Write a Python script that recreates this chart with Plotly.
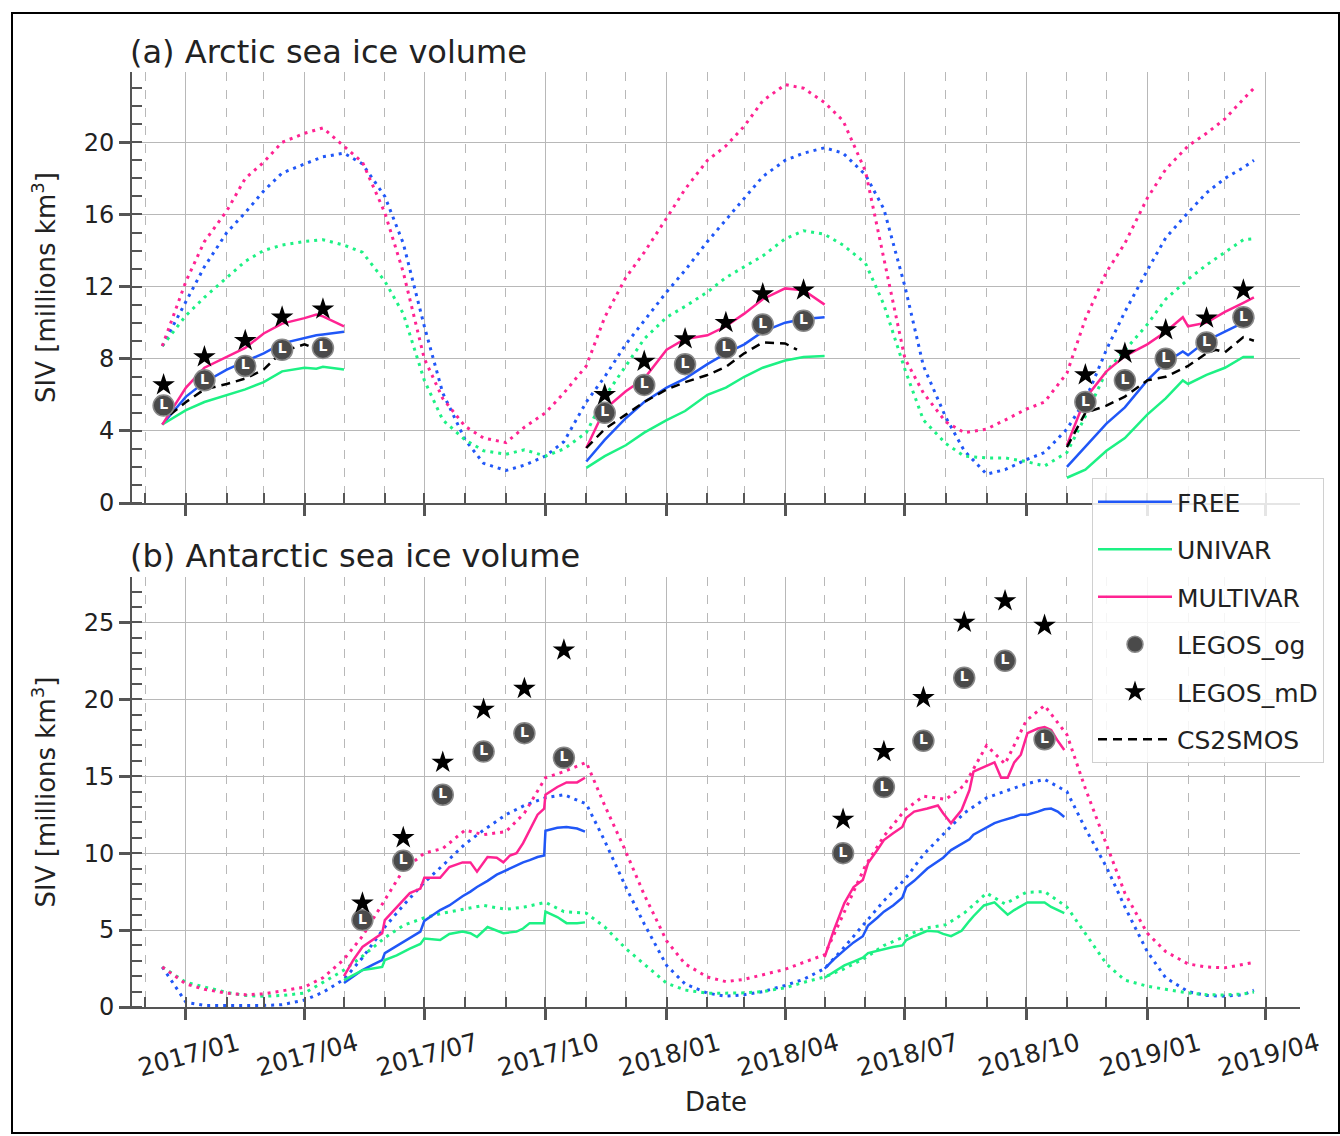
import plotly.graph_objects as go

# ---------------- data ----------------
DOT_DATES = ['2016-12-14',
             '2017-01-01', '2017-01-15', '2017-02-01', '2017-02-15', '2017-03-01', '2017-03-15',
             '2017-04-01', '2017-04-15', '2017-05-01', '2017-05-15', '2017-06-01', '2017-06-15',
             '2017-07-01', '2017-07-15', '2017-08-01', '2017-08-15', '2017-09-01', '2017-09-15',
             '2017-10-01', '2017-10-15', '2017-11-01', '2017-11-15', '2017-12-01', '2017-12-15',
             '2018-01-01', '2018-01-15', '2018-02-01', '2018-02-15', '2018-03-01', '2018-03-15',
             '2018-04-01', '2018-04-15', '2018-05-01', '2018-05-15', '2018-06-01', '2018-06-15',
             '2018-07-01', '2018-07-15', '2018-08-01', '2018-08-15', '2018-09-01', '2018-09-15',
             '2018-10-01', '2018-10-15', '2018-11-01', '2018-11-15', '2018-12-01', '2018-12-15',
             '2019-01-01', '2019-01-15', '2019-02-01', '2019-02-15', '2019-03-01', '2019-03-15',
             '2019-03-23']

# Arctic, dotted (whole period)
ARC_FREE_DOT = [8.7, 11.2, 13.1, 15.0, 16.1, 17.3, 18.3, 18.8, 19.2, 19.4,
                18.8, 17.0, 14.4, 9.8, 6.1, 3.5, 2.2, 1.8, 2.1, 2.6,
                3.4, 5.6, 7.0, 8.8, 10.1, 11.7, 12.9, 14.5, 15.7, 16.9,
                18.1, 19.0, 19.4, 19.7, 19.4, 18.2, 16.3, 12.0, 7.6, 4.75,
                2.9, 1.6, 1.85, 2.4, 2.8, 4.1, 5.7, 8.5, 10.6, 12.9,
                14.7, 16.1, 17.2, 18.0, 18.6, 19.0]
ARC_UNI_DOT = [8.7, 10.4, 11.4, 12.5, 13.4, 14.0, 14.3, 14.5, 14.6, 14.3,
               13.9, 12.3, 10.5, 6.8, 4.6, 3.5, 2.9, 2.7, 2.95, 2.6,
               3.0, 3.9, 5.9, 7.6, 9.1, 10.3, 10.9, 11.7, 12.5, 13.1,
               13.7, 14.65, 15.1, 14.9, 14.3, 13.3, 11.0, 7.4, 4.6, 3.3,
               2.6, 2.5, 2.5, 2.3, 2.05, 2.8, 4.8, 7.3, 8.5, 9.9,
               11.3, 12.4, 13.2, 13.9, 14.6, 14.65]
ARC_MULTI_DOT = [8.7, 12.3, 14.5, 16.2, 18.0, 18.9, 20.0, 20.5, 20.8, 19.8,
                 18.9, 16.1, 12.8, 8.0, 5.8, 4.25, 3.6, 3.35, 4.2, 5.0,
                 6.1, 7.6, 10.3, 12.5, 13.9, 15.8, 17.4, 19.0, 19.8, 20.9,
                 22.3, 23.2, 23.0, 22.2, 21.2, 18.4, 13.6, 8.0, 6.1, 4.5,
                 3.9, 4.1, 4.6, 5.2, 5.6, 7.2, 10.2, 12.8, 14.4, 16.9,
                 18.5, 19.8, 20.5, 21.3, 22.4, 23.0]

# Antarctic, dotted (whole period)
ANT_FREE_DOT = [2.6, 0.3, 0.1, 0.1, 0.1, 0.1, 0.15, 0.45, 0.95, 1.8,
                3.2, 5.2, 6.6, 8.1, 9.2, 10.6, 11.5, 12.5, 13.1, 13.6,
                13.8, 13.2, 10.8, 7.8, 5.4, 2.7, 1.5, 0.9, 0.7, 0.8,
                1.0, 1.4, 1.8, 2.5, 3.8, 5.5, 6.9, 8.3, 9.9, 11.4,
                12.6, 13.6, 14.0, 14.5, 14.8, 14.0, 11.6, 9.1, 6.5, 3.6,
                1.9, 1.0, 0.75, 0.7, 0.8, 1.1]
ANT_UNI_DOT = [2.6, 1.6, 1.3, 0.95, 0.75, 0.7, 0.75, 0.9, 1.6, 2.4,
               3.3, 4.5, 5.3, 5.8, 6.1, 6.35, 6.6, 6.35, 6.5, 6.8,
               6.2, 6.1, 5.2, 3.8, 2.8, 1.55, 1.1, 0.9, 0.9, 0.92,
               1.0, 1.25, 1.6, 1.95, 2.45, 3.2, 4.0, 4.6, 5.1, 5.35,
               6.1, 7.4, 6.7, 7.45, 7.5, 6.5, 4.8, 2.8, 1.75, 1.35,
               1.15, 0.92, 0.8, 0.78, 0.85, 0.97]
ANT_MULTI_DOT = [2.6, 1.5, 1.15, 0.9, 0.8, 0.85, 1.05, 1.3, 1.9, 3.1,
                 4.6, 7.0, 8.9, 10.0, 10.3, 11.5, 11.2, 11.4, 12.6, 14.9,
                 15.3, 15.9, 13.1, 10.1, 7.3, 4.3, 2.8, 1.95, 1.65, 1.8,
                 2.1, 2.45, 2.9, 3.4, 6.0, 9.2, 11.1, 12.8, 13.7, 13.5,
                 14.4, 17.0, 15.8, 18.6, 19.6, 17.7, 14.2, 10.6, 7.4, 4.8,
                 3.6, 2.8, 2.6, 2.55, 2.75, 2.9]

# Arctic, solid (assimilation windows)
ARC_W1_DATES = ['2016-12-14', '2017-01-01', '2017-01-15', '2017-02-01', '2017-02-15', '2017-03-01',
                '2017-03-15', '2017-04-01', '2017-04-10', '2017-04-15', '2017-05-01']
ARC_W1_FREE = [4.35, 5.9, 6.7, 7.4, 7.85, 8.3, 8.85, 9.15, 9.3, 9.35, 9.5]
ARC_W1_UNI = [4.35, 5.15, 5.6, 6.0, 6.3, 6.7, 7.3, 7.5, 7.45, 7.55, 7.4]
ARC_W1_MULTI = [4.35, 6.4, 7.5, 8.1, 8.6, 9.4, 9.95, 10.25, 10.45, 10.35, 9.8]

ARC_W2_DATES = ['2017-11-01', '2017-11-15', '2017-12-01', '2017-12-15', '2018-01-01', '2018-01-15',
                '2018-02-01', '2018-02-15', '2018-03-01', '2018-03-15', '2018-04-01', '2018-04-15',
                '2018-05-01']
ARC_W2_FREE = [2.3, 3.5, 4.7, 5.6, 6.4, 6.9, 7.7, 8.3, 8.8, 9.5, 10.0, 10.2, 10.3]
ARC_W2_UNI = [1.95, 2.6, 3.2, 3.9, 4.6, 5.1, 6.0, 6.4, 7.0, 7.5, 7.9, 8.1, 8.15]
ARC_W2_MULTI = [3.05, 5.2, 6.2, 6.9, 8.5, 9.1, 9.3, 9.8, 10.5, 11.3, 11.9, 11.8, 11.0]

ARC_W3_DATES = ['2018-11-01', '2018-11-15', '2018-12-01', '2018-12-15', '2019-01-01', '2019-01-15',
                '2019-01-28', '2019-02-01', '2019-02-15', '2019-03-01', '2019-03-15', '2019-03-23']
ARC_W3_FREE = [2.0, 3.1, 4.4, 5.3, 6.8, 7.8, 8.4, 8.2, 9.0, 9.5, 10.0, 10.3]
ARC_W3_UNI = [1.4, 1.85, 2.9, 3.6, 4.9, 5.8, 6.8, 6.6, 7.1, 7.5, 8.1, 8.1]
ARC_W3_MULTI = [3.2, 5.8, 7.3, 8.15, 8.8, 9.5, 10.3, 9.8, 10.0, 10.6, 11.1, 11.4]

# CS2SMOS (Arctic only)
CS2_W1_DATES = ['2016-12-20', '2017-01-01', '2017-01-15', '2017-02-01', '2017-02-15', '2017-03-01',
                '2017-03-15', '2017-04-01', '2017-04-08', '2017-04-15']
CS2_W1 = [4.9, 5.6, 6.3, 6.6, 6.9, 7.4, 8.4, 8.8, 8.6, 8.5]
CS2_W2_DATES = ['2017-11-01', '2017-11-15', '2017-12-01', '2017-12-15', '2018-01-01', '2018-01-15',
                '2018-02-01', '2018-02-15', '2018-03-01', '2018-03-15', '2018-04-01', '2018-04-10']
CS2_W2 = [3.05, 4.1, 4.9, 5.6, 6.3, 6.7, 7.1, 7.55, 8.3, 8.9, 8.85, 8.5]
CS2_W3_DATES = ['2018-11-01', '2018-11-15', '2018-12-01', '2018-12-15', '2019-01-01', '2019-01-15',
                '2019-02-01', '2019-02-15', '2019-02-22', '2019-03-01', '2019-03-15', '2019-03-23']
CS2_W3 = [3.1, 5.0, 5.4, 5.9, 6.8, 7.0, 7.6, 8.3, 8.5, 8.35, 9.2, 9.0]

# Antarctic, solid (assimilation windows)
ANT_W1_DATES = ['2017-05-01', '2017-05-08', '2017-05-15', '2017-05-23', '2017-05-30', '2017-06-01',
                '2017-06-10', '2017-06-20', '2017-06-28', '2017-07-01', '2017-07-13', '2017-07-20',
                '2017-07-30', '2017-08-05', '2017-08-10', '2017-08-18', '2017-08-25', '2017-08-30',
                '2017-09-04', '2017-09-09', '2017-09-14', '2017-09-19', '2017-09-25', '2017-09-30',
                '2017-10-01', '2017-10-10', '2017-10-17', '2017-10-25', '2017-10-31']
ANT_W1_FREE = [1.56, 2.0, 2.4, 2.75, 3.05, 3.5, 3.95, 4.5, 4.9, 5.6, 6.3, 6.6, 7.2, 7.5, 7.8,
               8.2, 8.6, 8.8, 9.0, 9.25, 9.4, 9.55, 9.75, 9.85, 11.45, 11.65, 11.7, 11.6, 11.4]
ANT_W1_UNI = [1.75, 2.1, 2.4, 2.5, 2.6, 3.05, 3.35, 3.8, 4.1, 4.45, 4.35, 4.75, 4.9, 4.8, 4.55,
              5.2, 4.95, 4.8, 4.85, 4.9, 5.1, 5.45, 5.45, 5.45, 6.2, 5.85, 5.45, 5.45, 5.5]
ANT_W1_MULTI = [2.0, 3.05, 3.9, 4.35, 4.8, 5.65, 6.5, 7.4, 7.7, 8.4, 8.4, 9.1, 9.4, 9.4, 8.8,
                9.75, 9.7, 9.4, 9.85, 10.0, 10.65, 11.5, 12.5, 12.9, 13.8, 14.3, 14.6, 14.6, 14.9]

ANT_W2_DATES = ['2018-05-01', '2018-05-08', '2018-05-16', '2018-05-23', '2018-05-30', '2018-06-03',
                '2018-06-10', '2018-06-15', '2018-06-22', '2018-06-29', '2018-07-02', '2018-07-08',
                '2018-07-18', '2018-07-26', '2018-07-30', '2018-08-05', '2018-08-13', '2018-08-19',
                '2018-08-22', '2018-08-30', '2018-09-07', '2018-09-12', '2018-09-17', '2018-09-22',
                '2018-09-27', '2018-10-02', '2018-10-10', '2018-10-15', '2018-10-20', '2018-10-25',
                '2018-10-30']
ANT_W2_FREE = [2.5, 3.1, 3.7, 4.2, 4.6, 5.3, 5.8, 6.2, 6.6, 7.1, 7.8, 8.2, 9.0, 9.45, 9.7, 10.2,
               10.6, 10.9, 11.2, 11.6, 11.95, 12.1, 12.2, 12.35, 12.5, 12.5, 12.7, 12.85, 12.9,
               12.7, 12.35]
ANT_W2_UNI = [1.9, 2.3, 2.7, 2.95, 3.2, 3.5, 3.65, 3.8, 3.9, 4.0, 4.35, 4.6, 4.95, 4.9, 4.75, 4.6,
              4.95, 5.6, 5.9, 6.6, 6.8, 6.4, 6.0, 6.3, 6.55, 6.8, 6.8, 6.8, 6.5, 6.3, 6.1]
ANT_W2_MULTI = [3.25, 5.0, 6.75, 7.8, 8.25, 9.35, 10.2, 10.85, 11.3, 11.7, 12.3, 12.7, 12.9, 13.1,
                12.6, 11.95, 12.8, 14.1, 15.3, 15.6, 15.9, 14.9, 14.9, 15.9, 16.4, 17.8, 18.1,
                18.2, 18.0, 17.3, 16.7]

# LEGOS observations
ARC_OBS_DATES = ['2016-12-15', '2017-01-15', '2017-02-15', '2017-03-15', '2017-04-15',
                 '2017-11-15', '2017-12-15', '2018-01-15', '2018-02-15', '2018-03-15', '2018-04-15',
                 '2018-11-15', '2018-12-15', '2019-01-15', '2019-02-15', '2019-03-15']
ARC_LEGOS_OG = [5.4, 6.8, 7.6, 8.5, 8.6, 5.0, 6.55, 7.7, 8.6, 9.9, 10.1, 5.6, 6.8, 8.0, 8.9, 10.3]
ARC_LEGOS_MD = [6.55, 8.1, 9.0, 10.3, 10.75, 6.0, 7.85, 9.1, 10.0, 11.6, 11.8, 7.1, 8.3, 9.6, 10.25, 11.8]

ANT_OBS_DATES = ['2017-05-15', '2017-06-15', '2017-07-15', '2017-08-15', '2017-09-15', '2017-10-15',
                 '2018-05-15', '2018-06-15', '2018-07-15', '2018-08-15', '2018-09-15', '2018-10-15']
ANT_LEGOS_OG = [5.65, 9.5, 13.8, 16.6, 17.8, 16.2, 10.0, 14.3, 17.3, 21.4, 22.5, 17.4]
ANT_LEGOS_MD = [6.75, 11.0, 15.9, 19.35, 20.7, 23.2, 12.2, 16.6, 20.1, 25.0, 26.4, 24.8]

TITLES = ['(a) Arctic sea ice volume', '(b) Antarctic sea ice volume']
Y_TITLE = 'SIV [millions km<sup>3</sup>]'
X_TITLE = 'Date'

# ---------------- style ----------------
C_FREE = '#2057f7'
C_UNI = '#1df184'
C_MULTI = '#ff2392'
FONT = 'DejaVu Sans'
AX = '#555555'
GRID = '#b8b8b8'


def joined(date_lists, value_lists):
    xs, ys = [], []
    for i, (d, v) in enumerate(zip(date_lists, value_lists)):
        if i:
            xs.append(None)
            ys.append(None)
        xs.extend(d)
        ys.extend(v)
    return xs, ys


fig = go.Figure()

DOT = dict(width=3, dash='3px,5px')

panels = [
    ('x', 'y', True,
     [(ARC_FREE_DOT, C_FREE), (ARC_UNI_DOT, C_UNI), (ARC_MULTI_DOT, C_MULTI)],
     [('FREE', C_FREE, [ARC_W1_FREE, ARC_W2_FREE, ARC_W3_FREE], 1),
      ('UNIVAR', C_UNI, [ARC_W1_UNI, ARC_W2_UNI, ARC_W3_UNI], 2),
      ('MULTIVAR', C_MULTI, [ARC_W1_MULTI, ARC_W2_MULTI, ARC_W3_MULTI], 3)],
     [ARC_W1_DATES, ARC_W2_DATES, ARC_W3_DATES],
     ARC_OBS_DATES, ARC_LEGOS_OG, ARC_LEGOS_MD),
    ('x2', 'y2', False,
     [(ANT_FREE_DOT, C_FREE), (ANT_UNI_DOT, C_UNI), (ANT_MULTI_DOT, C_MULTI)],
     [('FREE', C_FREE, [ANT_W1_FREE, ANT_W2_FREE], 1),
      ('UNIVAR', C_UNI, [ANT_W1_UNI, ANT_W2_UNI], 2),
      ('MULTIVAR', C_MULTI, [ANT_W1_MULTI, ANT_W2_MULTI], 3)],
     [ANT_W1_DATES, ANT_W2_DATES],
     ANT_OBS_DATES, ANT_LEGOS_OG, ANT_LEGOS_MD),
]

for xa, ya, show, dots, solids, wdates, odates, og, md in panels:
    for vals, col in dots:
        fig.add_trace(go.Scatter(x=DOT_DATES, y=vals, xaxis=xa, yaxis=ya, mode='lines',
                                 line=dict(color=col, **DOT), showlegend=False,
                                 hoverinfo='skip'))
    for name, col, vlists, rank in solids:
        xs, ys = joined(wdates, vlists)
        fig.add_trace(go.Scatter(x=xs, y=ys, xaxis=xa, yaxis=ya, mode='lines', name=name,
                                 line=dict(color=col, width=2.5), connectgaps=False,
                                 showlegend=show, legendgroup=name, legendrank=rank))
    if show:
        xs, ys = joined([CS2_W1_DATES, CS2_W2_DATES, CS2_W3_DATES], [CS2_W1, CS2_W2, CS2_W3])
        fig.add_trace(go.Scatter(x=xs, y=ys, xaxis=xa, yaxis=ya, mode='lines', name='CS2SMOS',
                                 line=dict(color='black', width=2.5, dash='9px,6px'),
                                 connectgaps=False, showlegend=True, legendgroup='CS2SMOS',
                                 legendrank=6))
    fig.add_trace(go.Scatter(x=odates, y=og, xaxis=xa, yaxis=ya, mode='markers', name='LEGOS_og',
                             marker=dict(symbol='circle', size=21, color='#4a4a4a',
                                         line=dict(color='#8a8a8a', width=1.5)),
                             showlegend=show, legendgroup='LEGOS_og', legendrank=4))
    fig.add_trace(go.Scatter(x=odates, y=og, xaxis=xa, yaxis=ya, mode='text', text=['L'] * len(og),
                             textposition='middle center',
                             textfont=dict(color='white', size=14, family=FONT, weight='bold'),
                             showlegend=False, hoverinfo='skip'))
    fig.add_trace(go.Scatter(x=odates, y=md, xaxis=xa, yaxis=ya, mode='markers', name='LEGOS_mD',
                             marker=dict(symbol='star', size=17, color='black'),
                             showlegend=show, legendgroup='LEGOS_mD', legendrank=5))

# ---------------- layout ----------------
W, H = 1340, 1136
ML, MR, MT, MB = 132, 40, 72, 129
PW, PH = W - ML - MR, H - MT - MB


def px_x(px):
    return (px - ML) / PW


def px_y(py):
    return (H - MB - py) / PH


XRANGE = ['2016-11-21', '2019-04-27']
xcommon = dict(type='date', range=XRANGE, tick0='2017-01-01', dtick='M3',
               ticks='outside', ticklen=11, tickwidth=3, tickcolor=AX,
               showline=True, linecolor=AX, linewidth=2, showgrid=True, gridcolor=GRID,
               gridwidth=1, zeroline=False, automargin=False,
               minor=dict(dtick='M1', ticks='inside', ticklen=10, tickwidth=1.5, tickcolor=AX,
                          showgrid=True, gridcolor=GRID, griddash='dash', gridwidth=1))

ycommon = dict(ticks='outside', ticklen=11, tickwidth=3, tickcolor=AX, showline=True,
               linecolor=AX, linewidth=2, showgrid=True, gridcolor=GRID, gridwidth=1,
               zeroline=False, automargin=False, tickfont=dict(size=24),
               title=dict(text=Y_TITLE, font=dict(size=26), standoff=21),
               minor=dict(dtick=1, ticks='inside', ticklen=10, tickwidth=1.5, tickcolor=AX,
                          showgrid=False))

# overlay axes only used to draw the inner half of the major ticks ("in-out" ticks)
xin = dict(type='date', range=XRANGE, tick0='2017-01-01', dtick='M3', ticks='inside',
           ticklen=10, tickwidth=3, tickcolor=AX, showgrid=False, showline=False,
           showticklabels=False, zeroline=False, automargin=False)
yin = dict(ticks='inside', ticklen=11, tickwidth=3, tickcolor=AX, showgrid=False,
           showline=False, showticklabels=False, zeroline=False, automargin=False)

top_dom = [px_y(503), 1.0]
bot_dom = [0.0, px_y(577)]
YR_TOP = [0, 23.9]
YR_BOT = [0, 27.95]

fig.update_layout(
    width=W, height=H, margin=dict(l=ML, r=MR, t=MT, b=MB),
    paper_bgcolor='white', plot_bgcolor='white',
    font=dict(family=FONT, size=24, color='#222222'),
    xaxis=dict(**xcommon, anchor='y', domain=[0, 1], showticklabels=False),
    yaxis=dict(**ycommon, anchor='x', domain=top_dom, range=YR_TOP, dtick=4, tick0=0),
    xaxis2=dict(**xcommon, anchor='y2', domain=[0, 1], showticklabels=True, tickformat='%Y/%m',
                tickangle=-15, tickfont=dict(size=25), ticklabelshift=52,
                title=dict(text=X_TITLE, font=dict(size=26), standoff=12)),
    yaxis2=dict(**ycommon, anchor='x2', domain=bot_dom, range=YR_BOT, dtick=5, tick0=0),
    xaxis3=dict(**xin, anchor='y', overlaying='x'),
    xaxis4=dict(**xin, anchor='y2', overlaying='x2'),
    yaxis3=dict(**yin, anchor='x', overlaying='y', range=YR_TOP, dtick=4, tick0=0),
    yaxis4=dict(**yin, anchor='x2', overlaying='y2', range=YR_BOT, dtick=5, tick0=0),
    legend=dict(x=px_x(1092), y=px_y(478), xanchor='left', yanchor='top',
                bgcolor='rgba(255,255,255,0.85)', bordercolor='#d0d0d0', borderwidth=1,
                font=dict(size=25, family=FONT), tracegroupgap=12, itemwidth=74,
                traceorder='grouped'),
    annotations=[
        dict(text=TITLES[0], xref='paper', yref='paper', x=px_x(128), y=px_y(52),
             xanchor='left', yanchor='middle', showarrow=False, font=dict(size=32)),
        dict(text=TITLES[1], xref='paper', yref='paper', x=px_x(128), y=px_y(556),
             xanchor='left', yanchor='middle', showarrow=False, font=dict(size=32)),
    ],
    shapes=[dict(type='rect', xref='paper', yref='paper', x0=px_x(12), x1=px_x(1339),
                 y0=px_y(1133), y1=px_y(13), line=dict(color='black', width=2),
                 fillcolor='rgba(0,0,0,0)', layer='below')],
    showlegend=True,
)

fig.write_html('out.html')
